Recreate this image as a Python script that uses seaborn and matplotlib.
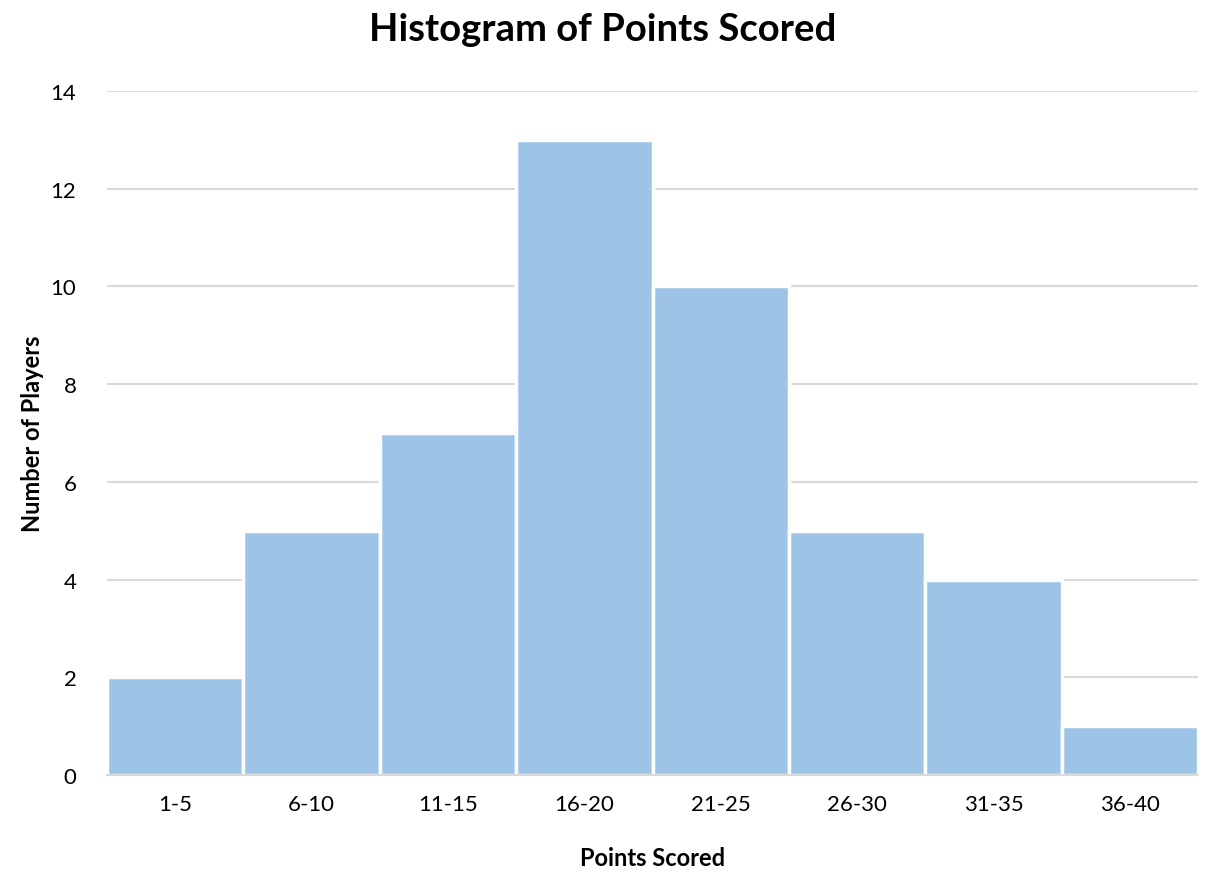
import matplotlib
matplotlib.use("Agg")
import matplotlib.pyplot as plt
import seaborn as sns
import pandas as pd

categories = ["1-5", "6-10", "11-15", "16-20", "21-25", "26-30", "31-35", "36-40"]
counts = [2, 5, 7, 13, 10, 5, 4, 1]
y_ticks = [0, 2, 4, 6, 8, 10, 12, 14]

sns.set_theme(style="white")
plt.rcParams['font.family'] = ['Lato', 'DejaVu Sans']
plt.rcParams['text.color'] = 'black'
plt.rcParams['axes.labelcolor'] = 'black'

df = pd.DataFrame({"range": categories, "count": counts})

fig = plt.figure(figsize=(12.06, 8.79), dpi=100)
ax = fig.add_axes([0.0887, 0.1172, 0.9047, 0.7781])

sns.barplot(data=df, x="range", y="count", color="#9DC3E6", saturation=1,
            width=1.0, edgecolor="white", linewidth=2.5, ax=ax, zorder=3)

ax.set_ylim(0, 14)
ax.set_xlim(-0.5, len(categories) - 0.5)
ax.set_yticks(y_ticks)
ax.yaxis.grid(True, color="#D9D9D9", linewidth=1.5, zorder=0)
ax.set_axisbelow(True)
for s in ["top", "right", "left"]:
    ax.spines[s].set_visible(False)
ax.spines["bottom"].set_color("#D9D9D9")
ax.spines["bottom"].set_linewidth(1.5)
ax.spines["bottom"].set_zorder(4)
ax.tick_params(axis="both", length=0, labelsize=16, colors="black")
ax.tick_params(axis="y", pad=22)
ax.tick_params(axis="x", pad=14)

ax.set_xlabel("Points Scored", fontsize=17, fontweight="bold", labelpad=23, color="black")
ax.set_ylabel("Number of Players", fontsize=17, fontweight="bold", labelpad=5, color="black")
fig.suptitle("Histogram of Points Scored", fontsize=27.5, fontweight="bold", y=0.985, color="black")

fig.savefig("out.png", dpi=100)
